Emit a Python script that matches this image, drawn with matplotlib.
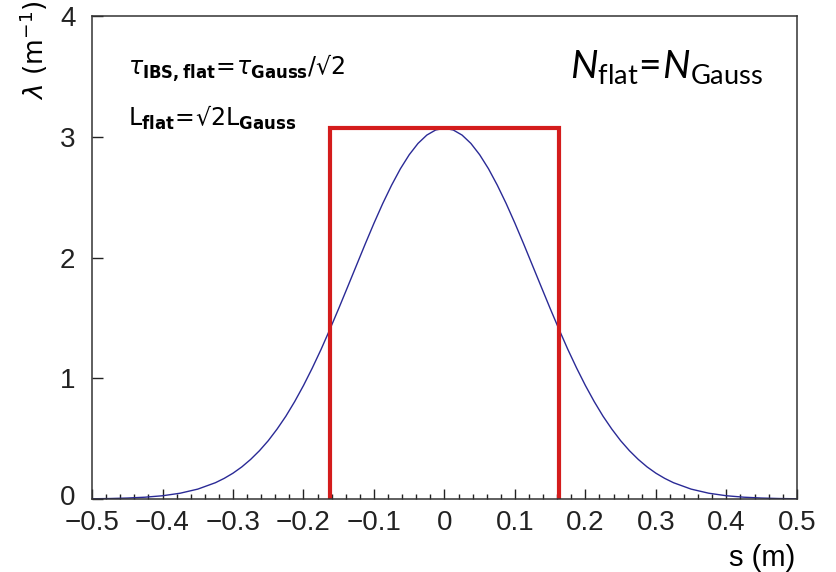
import matplotlib
matplotlib.use("Agg")
import matplotlib.pyplot as plt
import matplotlib.transforms as mtransforms
from matplotlib.ticker import MultipleLocator, FixedLocator, FixedFormatter

# gaussian line density
s_gauss = [-0.5, -0.475, -0.45, -0.425, -0.4, -0.375, -0.35, -0.325,
           -0.3125, -0.3, -0.2875, -0.275, -0.2625, -0.25, -0.2375, -0.225,
           -0.2125, -0.2, -0.1875, -0.175, -0.1625, -0.15, -0.1375, -0.125,
           -0.1125, -0.1, -0.0875, -0.075, -0.0625, -0.05, -0.0375, -0.025,
           -0.0125, 0.0, 0.0125, 0.025, 0.0375, 0.05, 0.0625, 0.075,
           0.0875, 0.1, 0.1125, 0.125, 0.1375, 0.15, 0.1625, 0.175,
           0.1875, 0.2, 0.2125, 0.225, 0.2375, 0.25, 0.2625, 0.275,
           0.2875, 0.3, 0.3125, 0.325, 0.35, 0.375, 0.4, 0.425,
           0.45, 0.475, 0.5]
lam_gauss = [0.002, 0.004, 0.008, 0.015, 0.027, 0.048, 0.082, 0.135,
             0.171, 0.214, 0.266, 0.328, 0.400, 0.483, 0.579, 0.686,
             0.807, 0.940, 1.085, 1.240, 1.406, 1.578, 1.755, 1.933,
             2.111, 2.284, 2.448, 2.599, 2.735, 2.851, 2.945, 3.014,
             3.056, 3.070, 3.056, 3.014, 2.945, 2.851, 2.735, 2.599,
             2.448, 2.284, 2.111, 1.933, 1.755, 1.578, 1.406, 1.240,
             1.085, 0.940, 0.807, 0.686, 0.579, 0.483, 0.400, 0.328,
             0.266, 0.214, 0.171, 0.135, 0.082, 0.048, 0.027, 0.015,
             0.008, 0.004, 0.002]

# flat (rectangular) profile
s_flat = [-0.163, -0.163, 0.163, 0.163]
lam_flat = [0.0, 3.07, 3.07, 0.0]

x_ticks = [-0.5, -0.4, -0.3, -0.2, -0.1, 0.0, 0.1, 0.2, 0.3, 0.4, 0.5]
x_ticklabels = ["\u22120.5", "\u22120.4", "\u22120.3", "\u22120.2", "\u22120.1",
                "0", "0.1", "0.2", "0.3", "0.4", "0.5"]
y_ticks = [0, 1, 2, 3, 4]
y_ticklabels = ["0", "1", "2", "3", "4"]

plt.rcParams["font.family"] = ["Liberation Sans", "DejaVu Sans"]
plt.rcParams["mathtext.fontset"] = "custom"
plt.rcParams["mathtext.rm"] = "Lato"
plt.rcParams["mathtext.it"] = "Lato:italic"
plt.rcParams["mathtext.bf"] = "Lato:bold"

fig = plt.figure(figsize=(8.37, 5.72), dpi=100)
ax = fig.add_axes([0.110, 0.1276, 0.842, 0.8444])

ax.plot(s_gauss, lam_gauss, color="#2a2a96", lw=1.0)
ax.plot(s_flat, lam_flat, color="#d41c1c", lw=3.0, solid_joinstyle="miter")

ax.set_xlim(-0.5, 0.5)
ax.set_ylim(0, 4)

ax.xaxis.set_major_locator(FixedLocator(x_ticks))
ax.xaxis.set_major_formatter(FixedFormatter(x_ticklabels))
ax.xaxis.set_minor_locator(MultipleLocator(0.02))
ax.yaxis.set_major_locator(FixedLocator(y_ticks))
ax.yaxis.set_major_formatter(FixedFormatter(y_ticklabels))

ax.tick_params(axis="x", which="major", direction="in", length=7.5, width=1,
               labelsize=20, pad=8, colors="#222222")
ax.tick_params(axis="x", which="minor", direction="in", length=3.8, width=1,
               colors="#222222")
ax.tick_params(axis="y", which="major", direction="in", length=8, width=1,
               labelsize=20, pad=12, colors="#222222")
for sp in ax.spines.values():
    sp.set_color("#333333")
    sp.set_linewidth(1.1)

# lift the "0" of the y axis a little, clear of the x labels
zero_lbl = ax.get_yticklabels()[0]
zero_lbl.set_transform(zero_lbl.get_transform() +
                       mtransforms.ScaledTranslation(0, 4 / 100, fig.dpi_scale_trans))

fig.text(34 / 837, 1 - 50 / 572, r"$\lambda\ (\mathrm{m}^{-1})$", rotation=90,
         ha="center", va="center", fontsize=19, math_fontfamily="dejavusans")
fig.text(795 / 837, 1 - 558 / 572, "s (m)", ha="right", va="center", fontsize=21)

fig.text(128 / 837, 1 - 68 / 572,
         r"$\tau_{\mathbf{IBS,flat}}\!=\!\tau_{\mathbf{Gauss}}/√2$",
         ha="left", va="center", fontsize=17, math_fontfamily="dejavusans")
fig.text(128 / 837, 1 - 118 / 572,
         r"$\mathrm{L}_{\mathbf{flat}}\!=\!√2\mathrm{L}_{\mathbf{Gauss}}$",
         ha="left", va="center", fontsize=17, math_fontfamily="dejavusans")

fig.text(570 / 837, 1 - 78 / 572,
         r"$N_{\mathrm{flat}}\!=\!N_{\mathrm{Gauss}}$",
         ha="left", va="baseline", fontsize=28, math_fontfamily="custom")

fig.savefig("out.png", dpi=100)
